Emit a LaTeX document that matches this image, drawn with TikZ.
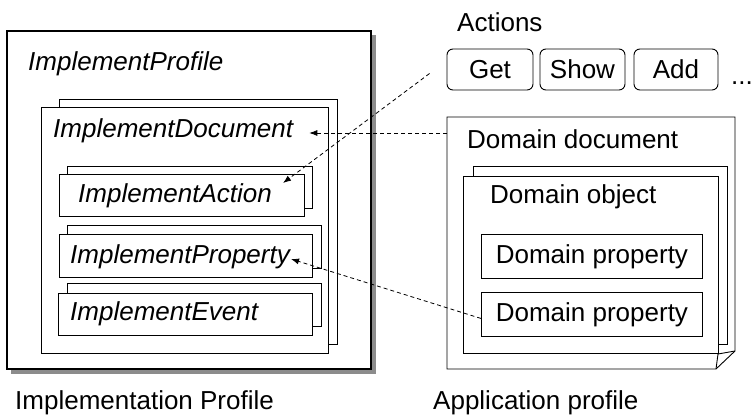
\documentclass[tikz,border=0pt]{standalone}
\usepackage{fontspec}
\setmainfont{Liberation Sans}
\usetikzlibrary{arrows.meta,calc}

\tikzset{
  box/.style={draw, fill=white, line width=0.9pt},
  txt/.style={inner sep=0pt, anchor=west, font=\fontsize{26}{30}\selectfont},
  itxt/.style={txt, font=\fontsize{26}{30}\selectfont\itshape},
  propbox/.style={box, anchor=north west, minimum width=221pt, minimum height=44pt, inner sep=0pt, font=\fontsize{26}{30}\selectfont},
  btn/.style={draw, rounded corners=6pt, line width=0.9pt, minimum height=41pt, inner sep=0pt, font=\fontsize{26}{30}\selectfont},
  link/.style={dash pattern=on 4pt off 3pt, line width=0.8pt, -{Latex[length=8pt,width=6pt]}}
}

\begin{document}
\begin{tikzpicture}[x=1pt,y=-1pt]
\useasboundingbox (0,0) rectangle (753,415);

% implementation side
\fill[black!45] (11,35) rectangle (376,374);
\draw[box, line width=1.1pt] (7,31) rectangle (371,369);
\node[itxt] (iprof) at (28,64) {ImplementProfile};

\draw[box] (59,99) rectangle (337,344);
\draw[box] (41,107) rectangle (328,353);
\node[itxt] (idoc) at (53,131) {ImplementDocument};

\draw[box] (67,166) rectangle (312,208);
\draw[box] (59,174) rectangle (304,216);
\node[itxt] (iact) at (78,196) {ImplementAction};

\draw[box] (67,225) rectangle (321,268);
\draw[box] (59,234) rectangle (312,277);
\node[itxt] (iprop) at (70,257) {ImplementProperty};

\draw[box] (67,283) rectangle (321,326);
\draw[box] (58,293) rectangle (312,335);
\node[itxt] (ievt) at (70,314) {ImplementEvent};

\node[txt] (implabel) at (15,403) {Implementation Profile};

% application side
\node[txt] (actions) at (457,22) {Actions};
\node[btn, minimum width=86pt] (get) at (490,69.5) {Get};
\node[btn, minimum width=85pt] (show) at (582.5,69.5) {Show};
\node[btn, minimum width=84pt] (add) at (676,69.5) {Add};
\node[txt] (more) at (731,83) {...};

\draw[box] (447,117) -- (735,117) -- (735,351) -- (716,369) -- (447,369) -- cycle;
\draw[line width=0.9pt] (735,351) -- (718,354) -- (716,369);
\node[txt] (ddoc) at (467,139) {Domain document};

\draw[box] (473,166) rectangle (727,344);
\draw[box] (463,176) rectangle (718,353);
\node[txt] (dobj) at (490,197) {Domain object};

\node[propbox] (dp1) at (481,234) {Domain property};
\node[propbox] (dp2) at (481,292) {Domain property};

\node[txt] (applabel) at (433,403) {Application profile};

% links
\coordinate (ddin) at (447,133);
\draw[link] (ddin) -- ($(idoc.east |- ddin)+(16,0)$);
\draw[link] ($(get.west)+(-17,4)$) -- ($(iact.east)+(11,-13)$);
\draw[link] ($(dp2.west)+(0,4)$) -- ($(iprop.east)+(1,2)$);
\end{tikzpicture}
\end{document}
